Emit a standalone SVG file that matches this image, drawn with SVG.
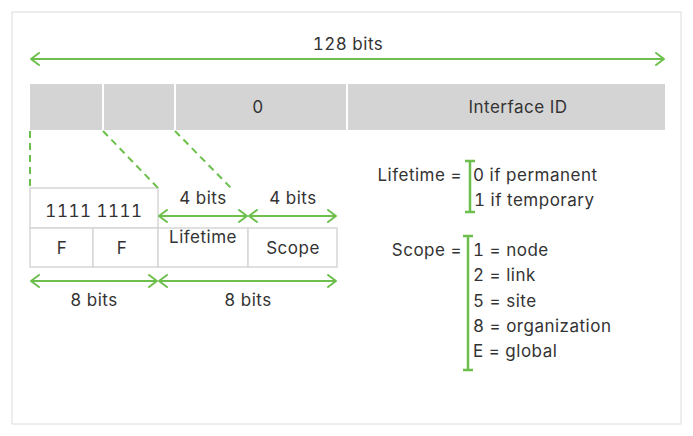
<svg xmlns="http://www.w3.org/2000/svg" width="693" height="436" viewBox="0 0 693 436">
<defs>
<marker id="ah" viewBox="0 0 10 14" refX="9" refY="7" markerWidth="10" markerHeight="14" markerUnits="userSpaceOnUse" orient="auto-start-reverse">
<polyline points="1,1 9,7 1,13" fill="none" stroke="#6cbf4c" stroke-width="2" stroke-linecap="round" stroke-linejoin="round"/>
</marker>
</defs>
<style>
text{font-family:Inter,"Liberation Sans",sans-serif;font-size:17px;letter-spacing:0.5px;fill:#333;font-variant-numeric:tabular-nums;}
.c{text-anchor:middle;dominant-baseline:central;}
.r{text-anchor:end;dominant-baseline:central;}
.l{text-anchor:start;dominant-baseline:central;}
.arr{stroke:#6cbf4c;stroke-width:2;fill:none;marker-start:url(#ah);marker-end:url(#ah);}
.dash{stroke:#6cbf4c;stroke-width:2;fill:none;stroke-dasharray:7,5;}
.cell{fill:#fff;stroke:#d6d6d6;stroke-width:1.5;}
.br{stroke:#6cbf4c;stroke-width:2.5;fill:none;}
</style>
<rect x="12" y="12" width="669" height="412" fill="#fff" stroke="#dcdcdc" stroke-width="1"/>
<g id="address-bar">
<rect x="30" y="84" width="635" height="46" fill="#d4d4d4"/>
<line x1="103" y1="84" x2="103" y2="130" stroke="#fff" stroke-width="2"/>
<line x1="175" y1="84" x2="175" y2="130" stroke="#fff" stroke-width="2"/>
<line x1="347" y1="84" x2="347" y2="130" stroke="#fff" stroke-width="2"/>
<text class="c" x="258" y="107">0</text>
<text class="c" x="518" y="107">Interface ID</text>
</g>
<g id="prefix-box">
<rect class="cell" x="30" y="188" width="128" height="40"/>
<text class="c" x="94" y="211">1111 1111</text>
</g>
<g id="f-cells">
<rect class="cell" x="30" y="228" width="63" height="39"/>
<rect class="cell" x="93" y="228" width="65" height="39"/>
<text class="c" x="62" y="248">F</text>
<text class="c" x="122" y="248">F</text>
</g>
<g id="lifetime-cell">
<rect class="cell" x="158" y="228" width="90" height="39"/>
<text class="c" x="203" y="237">Lifetime</text>
</g>
<g id="scope-cell">
<rect class="cell" x="248" y="228" width="89" height="39"/>
<text class="c" x="293" y="248">Scope</text>
</g>
<g id="connectors">
<line class="arr" x1="31" y1="59" x2="664" y2="59"/>
<line class="dash" x1="30" y1="131" x2="30" y2="188"/>
<line class="dash" x1="103" y1="131" x2="158" y2="188"/>
<line class="dash" x1="175" y1="131" x2="231" y2="188"/>
<line class="arr" x1="159" y1="216" x2="247" y2="216"/>
<line class="arr" x1="249" y1="216" x2="336" y2="216"/>
<line class="arr" x1="31" y1="281" x2="157" y2="281"/>
<line class="arr" x1="159" y1="281" x2="336" y2="281"/>
</g>
<g id="labels">
<text class="c" x="348" y="44">128 bits</text>
<text class="c" x="203" y="198">4 bits</text>
<text class="c" x="293" y="198">4 bits</text>
<text class="c" x="94" y="300">8 bits</text>
<text class="c" x="248" y="300">8 bits</text>
</g>
<g id="lifetime-legend">
<text class="r" x="462" y="175">Lifetime =</text>
<path class="br" d="M465,161 H475 M470,161 V212 M465,212 H475"/>
<text class="l" x="473" y="175">0 if permanent</text>
<text class="l" x="474" y="200">1 if temporary</text>
</g>
<g id="scope-legend">
<text class="r" x="462" y="250">Scope =</text>
<path class="br" d="M463,236 H473 M468,236 V370 M463,370 H473"/>
<text class="l" x="473" y="250">1 = node</text>
<text class="l" x="473" y="275">2 = link</text>
<text class="l" x="473" y="301">5 = site</text>
<text class="l" x="473" y="326">8 = organization</text>
<text class="l" x="473" y="351">E = global</text>
</g>
</svg>
